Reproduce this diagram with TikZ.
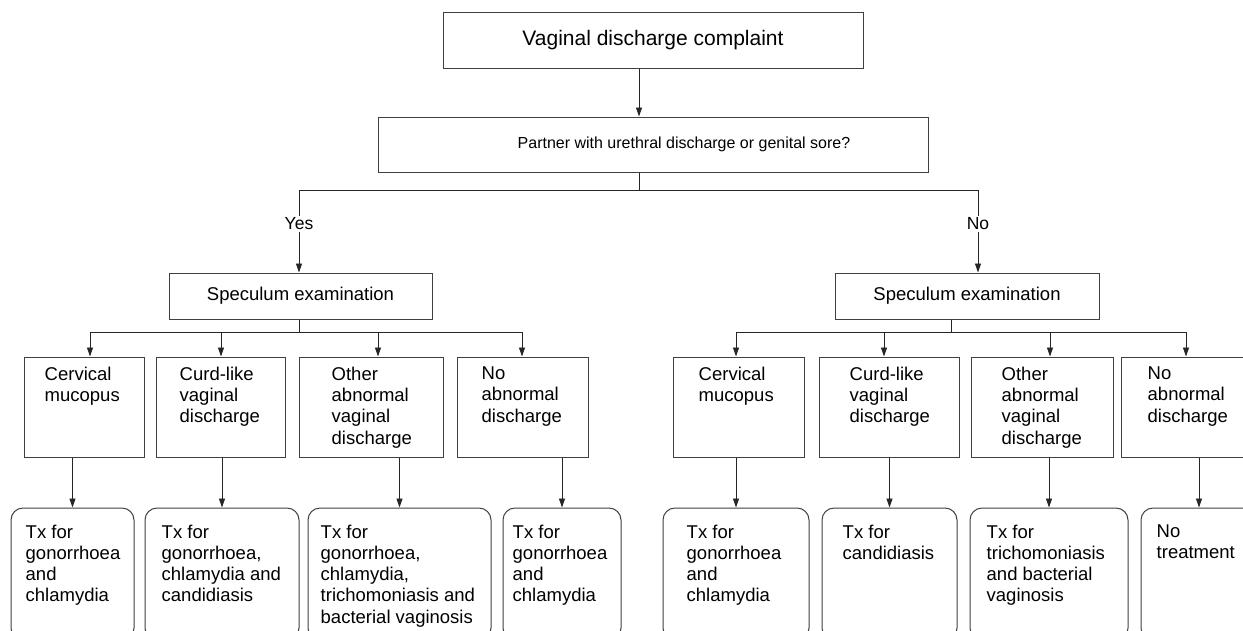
\documentclass[tikz,border=0pt]{standalone}
\usepackage{fontspec}
\setmainfont{Liberation Sans}
\usetikzlibrary{arrows.meta}
\tikzset{
  ln/.style={line width=0.9pt, draw=black!85},
  arr/.style={ln, -{Triangle[length=9pt,width=6pt]}},
  sq/.style={draw=black!75, line width=1pt, inner sep=0pt, rectangle},
  rd/.style={sq, rounded corners=12pt},
  txt/.style={inner sep=0pt, align=left, font=\fontsize{18.5}{21.3}\selectfont},
  lbl/.style={fill=white, inner sep=2pt, font=\fontsize{17.5}{20}\selectfont},
}
% #1 style, #2 name, #3 x1, #4 y1, #5 x2, #6 y2, #7 left inset, #8 top inset, #9 text
\newcommand\fbx[9]{%
  \node[#1, minimum width={(#5-#3)*1pt}, minimum height={(#6-#4)*1pt},
    label={[txt, anchor=north west, xshift=#7pt, yshift=-#8pt]north west:{#9}}]
    (#2) at ({(#3+#5)/2},{(#4+#6)/2}) {};}
\begin{document}
\begin{tikzpicture}[x=1pt, y=-1pt]
\useasboundingbox (0,0) rectangle (1243,630);
\clip (0,0) rectangle (1243,630);
\fill[white] (0,0) rectangle (1243,630);

\node[sq, minimum width=420pt, minimum height=56pt, font=\fontsize{21}{25}\selectfont] (top) at (653,40) {Vaginal discharge complaint};
\node[sq, minimum width=550pt, minimum height=55pt,
  label={[font=\fontsize{16}{19}\selectfont, inner sep=0pt, xshift=31pt]center:Partner with urethral discharge or genital sore?}] (partner) at (653,144.5) {};
\node[sq, minimum width=263pt, minimum height=46pt, font=\fontsize{18.5}{22}\selectfont] (specL) at (300.5,296) {Speculum examination};
\node[sq, minimum width=264pt, minimum height=46pt, font=\fontsize{18.5}{22}\selectfont] (specR) at (967,296) {Speculum examination};

\coordinate (jx) at (639,190);
\coordinate (yj) at (299,190);
\coordinate (nj) at (978,190);
\coordinate (bl) at (299,332);
\coordinate (br) at (951,332);
\coordinate (a1) at (90,332);
\coordinate (a2) at (221,332);
\coordinate (a3) at (378,332);
\coordinate (a4) at (522,332);
\coordinate (a5) at (736,332);
\coordinate (a6) at (884,332);
\coordinate (a7) at (1050,332);
\coordinate (a8) at (1186,332);

\fbx{sq}{b1}{24}{357}{144}{457}{21}{10}{Cervical\\mucopus}
\fbx{sq}{b2}{156}{357}{285}{457}{24}{10}{Curd-like\\vaginal\\discharge}
\fbx{sq}{b3}{299}{357}{443}{457}{33}{10}{Other\\abnormal\\vaginal\\discharge}
\fbx{sq}{b4}{457}{357}{588}{457}{25}{10}{No\\abnormal\\discharge}
\fbx{sq}{b5}{673}{357}{804}{457}{26}{10}{Cervical\\mucopus}
\fbx{sq}{b6}{819}{357}{959}{457}{31}{10}{Curd-like\\vaginal\\discharge}
\fbx{sq}{b7}{971}{357}{1113}{457}{31}{10}{Other\\abnormal\\vaginal\\discharge}
\fbx{sq}{b8}{1121}{357}{1255}{457}{27}{10}{No\\abnormal\\discharge}

\fbx{rd}{r1}{11}{508}{134}{640}{15}{17}{Tx for\\gonorrhoea\\and\\chlamydia}
\fbx{rd}{r2}{145}{508}{299}{640}{17}{17}{Tx for\\gonorrhoea,\\chlamydia and\\candidiasis}
\fbx{rd}{r3}{308}{508}{491}{640}{13}{17}{Tx for\\gonorrhoea,\\chlamydia,\\trichomoniasis and\\bacterial vaginosis}
\fbx{rd}{r4}{503}{508}{621}{640}{10}{17}{Tx for\\gonorrhoea\\and\\chlamydia}
\fbx{rd}{r5}{663}{508}{809}{640}{24}{17}{Tx for\\gonorrhoea\\and\\chlamydia}
\fbx{rd}{r6}{822}{508}{957}{640}{21}{17}{Tx for\\candidiasis}
\fbx{rd}{r7}{970}{508}{1128}{640}{17}{17}{Tx for\\trichomoniasis\\and bacterial\\vaginosis}
\fbx{rd}{r8}{1141}{508}{1257}{640}{16}{17}{No\\treatment}

% top part
\draw[arr] (top.south -| jx) -- (partner.north -| jx);
\draw[ln] (partner.south -| jx) -- (jx);
\draw[ln] (yj) -- (nj);
\draw[arr] (yj) -- node[lbl, pos=0.41] {Yes} (specL.north -| yj);
\draw[arr] (nj) -- node[lbl, pos=0.41] {No} (specR.north -| nj);

% speculum branches
\draw[ln] (specL.south -| bl) -- (bl);
\draw[ln] (specR.south -| br) -- (br);
\draw[ln] (a1) -- (a4);
\draw[ln] (a5) -- (a8);
\draw[arr] (a1) -- (b1.north -| a1);
\draw[arr] (a2) -- (b2.north -| a2);
\draw[arr] (a3) -- (b3.north -| a3);
\draw[arr] (a4) -- (b4.north -| a4);
\draw[arr] (a5) -- (b5.north -| a5);
\draw[arr] (a6) -- (b6.north -| a6);
\draw[arr] (a7) -- (b7.north -| a7);
\draw[arr] (a8) -- (b8.north -| a8);

% findings to treatment
\draw[arr] (b1.south -| r1.north) -- (r1.north);
\draw[arr] (b2.south -| r2.north) -- (r2.north);
\draw[arr] (b3.south -| r3.north) -- (r3.north);
\draw[arr] (b4.south -| r4.north) -- (r4.north);
\draw[arr] (b5.south -| r5.north) -- (r5.north);
\draw[arr] (b6.south -| r6.north) -- (r6.north);
\draw[arr] (b7.south -| r7.north) -- (r7.north);
\draw[arr] (b8.south -| r8.north) -- (r8.north);
\end{tikzpicture}
\end{document}
